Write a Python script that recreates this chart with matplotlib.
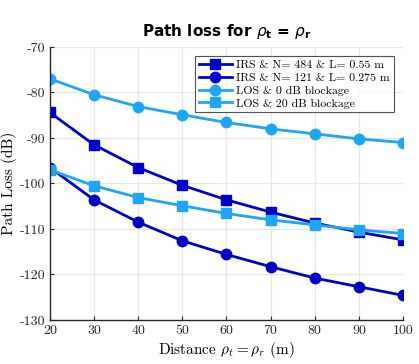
import numpy as np
import matplotlib
matplotlib.use("Agg")
import matplotlib.pyplot as plt

plt.rcParams['mathtext.fontset'] = 'cm'
plt.rcParams['font.family'] = 'serif'
plt.rcParams['font.serif'] = ['cmr10', 'DejaVu Serif']
plt.rcParams['axes.formatter.use_mathtext'] = True

distance = [20, 30, 40, 50, 60, 70, 80, 90, 100]
irs_484 = [-84.4, -91.5, -96.5, -100.4, -103.6, -106.3, -108.7, -110.7, -112.4]
irs_121 = [-96.5, -103.6, -108.5, -112.6, -115.6, -118.3, -120.8, -122.7, -124.6]
los_0db = [-77.0, -80.5, -83.1, -84.9, -86.6, -88.0, -89.1, -90.2, -91.0]
los_20db = [-97.0, -100.5, -103.1, -104.9, -106.6, -108.0, -109.1, -110.2, -111.0]

x_ticks = [20, 30, 40, 50, 60, 70, 80, 90, 100]
y_ticks = [-130, -120, -110, -100, -90, -80, -70]

DARK = '#0000C8'
LIGHT = '#1EA5F5'

fig = plt.figure(figsize=(4.19, 3.64), dpi=100)
ax = fig.add_axes([0.119, 0.121, 0.843, 0.750])

ax.plot(distance, irs_484, color=DARK, marker='s', markersize=6.5, linewidth=2,
        label='IRS & N= 484 & L= 0.55 m')
ax.plot(distance, irs_121, color=DARK, marker='o', markersize=7.5, linewidth=2,
        label='IRS & N= 121 & L= 0.275 m')
ax.plot(distance, los_0db, color=LIGHT, marker='o', markersize=7.5, linewidth=2,
        label='LOS & 0 dB blockage')
ax.plot(distance, los_20db, color=LIGHT, marker='s', markersize=6.5, linewidth=2,
        label='LOS & 20 dB blockage')

ax.set_xlim(20, 100)
ax.set_ylim(-130, -70)
ax.set_xticks(x_ticks)
ax.set_xticklabels([str(t) for t in x_ticks])
ax.set_yticks(y_ticks)
ax.set_yticklabels([str(t) for t in y_ticks])
ax.tick_params(direction='in', length=3, labelsize=10, colors='#262626')
ax.grid(True, color='#e6e6e6', linewidth=0.8)
ax.set_axisbelow(True)
for side in ['top', 'right']:
    ax.spines[side].set_visible(False)
for side in ['left', 'bottom']:
    ax.spines[side].set_color('#262626')
    ax.spines[side].set_linewidth(1.0)

ax.set_xlabel(r'Distance $\rho_t = \rho_r$ (m)', fontsize=11, labelpad=2)
ax.set_ylabel('Path Loss (dB)', fontsize=11, labelpad=2)
ax.set_title(r'Path loss for $\mathit{\rho}_\mathbf{t}$ = $\mathit{\rho}_\mathbf{r}$',
             fontsize=11, fontweight='bold', family='DejaVu Sans',
             math_fontfamily='dejavusans', pad=8)

leg = ax.legend(loc='upper right', bbox_to_anchor=(0.98, 0.975), fontsize=8.5,
                frameon=True, fancybox=False, borderpad=0.3, labelspacing=0.22,
                handlelength=2.8, handletextpad=0.4, borderaxespad=0.2)
leg.get_frame().set_edgecolor('#262626')
leg.get_frame().set_linewidth(0.8)

fig.savefig('out.png', dpi=100)
